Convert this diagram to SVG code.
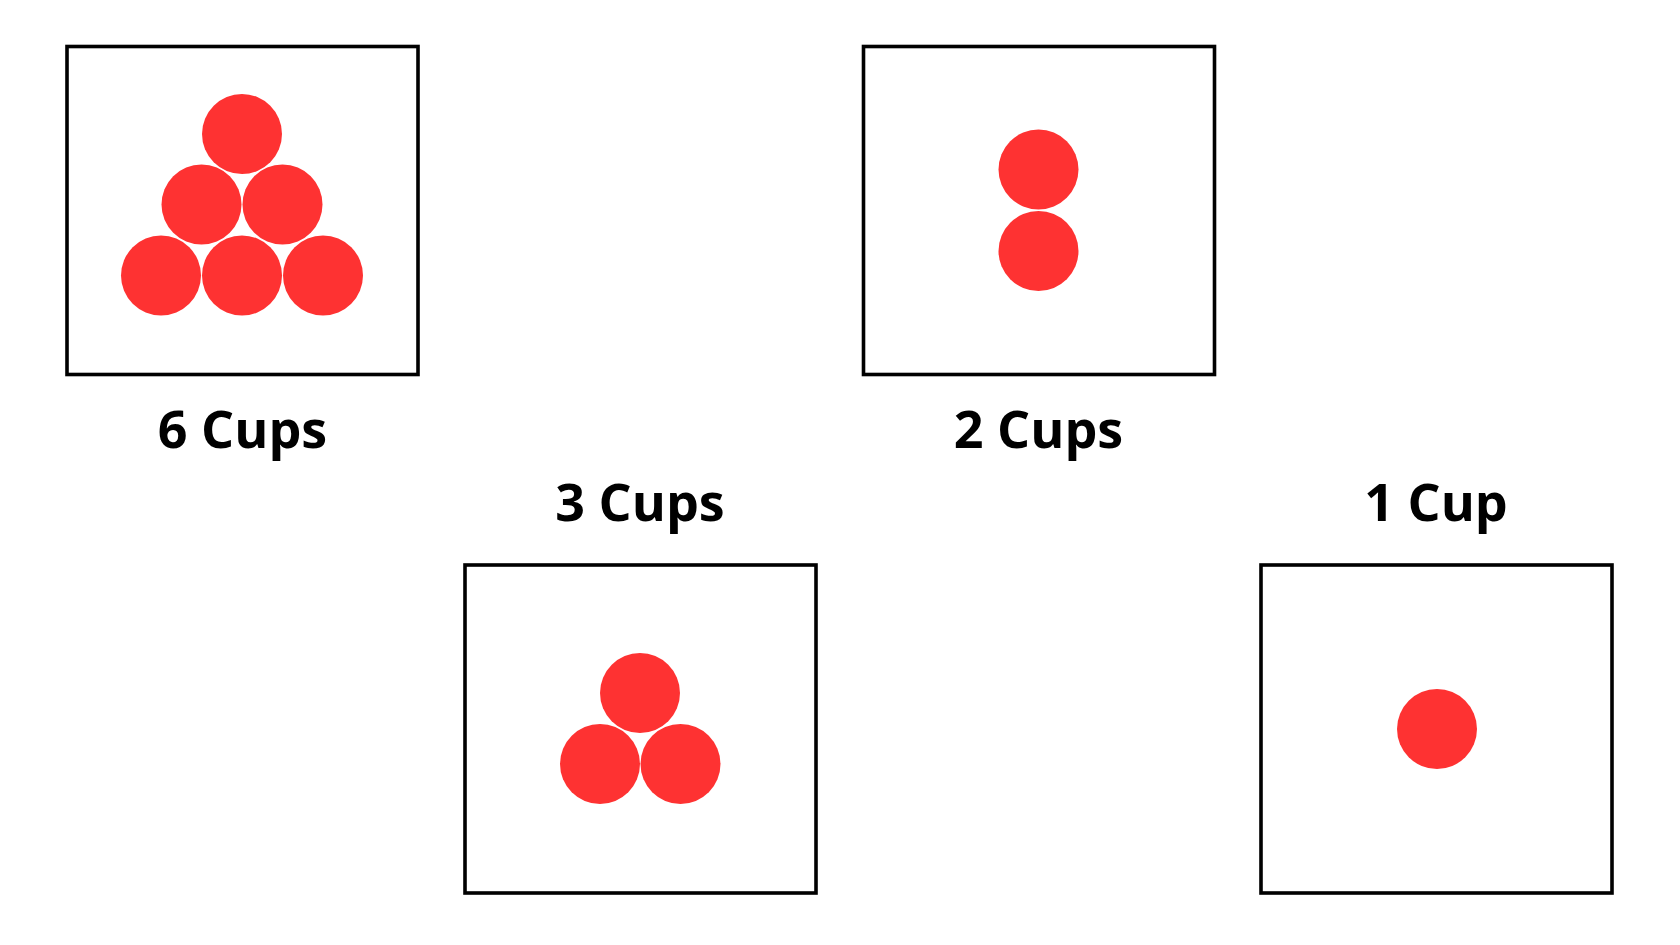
<svg xmlns="http://www.w3.org/2000/svg" width="1680" height="945" viewBox="0 0 1680 945">
<style>
.box{fill:#fff;stroke:#000;stroke-width:3.6}
.cup{fill:#fe3232}
.lbl{font-family:"Open Sans","Noto Sans","Liberation Sans",sans-serif;font-weight:bold;font-size:52px;text-anchor:middle;fill:#000}
</style>
<rect width="1680" height="945" fill="#fff"/>
<g id="six">
<rect class="box" x="67" y="46.5" width="351" height="328"/>
<circle class="cup" cx="242" cy="134" r="40"/>
<circle class="cup" cx="201.5" cy="204.5" r="40"/>
<circle class="cup" cx="282.5" cy="204.5" r="40"/>
<circle class="cup" cx="161" cy="275.5" r="40"/>
<circle class="cup" cx="242" cy="275.5" r="40"/>
<circle class="cup" cx="323" cy="275.5" r="40"/>
<text class="lbl" x="242.5" y="448">6 Cups</text>
</g>
<g id="two">
<rect class="box" x="863.5" y="46.5" width="351" height="328"/>
<circle class="cup" cx="1038.5" cy="169.5" r="40"/>
<circle class="cup" cx="1038.5" cy="251" r="40"/>
<text class="lbl" x="1038.5" y="448">2 Cups</text>
</g>
<g id="three">
<rect class="box" x="465" y="565" width="351" height="328"/>
<circle class="cup" cx="640" cy="693" r="40"/>
<circle class="cup" cx="600" cy="764" r="40"/>
<circle class="cup" cx="680.5" cy="764" r="40"/>
<text class="lbl" x="640" y="521">3 Cups</text>
</g>
<g id="one">
<rect class="box" x="1261" y="565" width="351" height="328"/>
<circle class="cup" cx="1437" cy="729" r="40"/>
<text class="lbl" x="1436" y="521">1 Cup</text>
</g>
<g id="connectors"/>
</svg>
